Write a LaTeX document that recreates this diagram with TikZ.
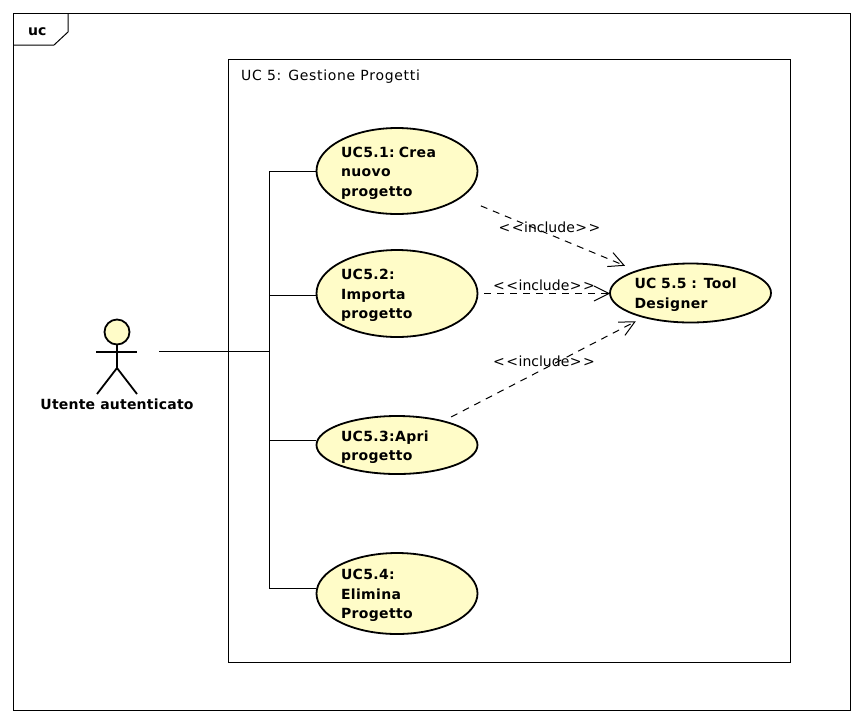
\documentclass[tikz,border=0pt]{standalone}
\usepackage{fontspec}
\setmainfont{DejaVu Sans}
\usetikzlibrary{shapes.geometric,arrows.meta,calc}
\definecolor{ucfill}{HTML}{FFFCC8}
\newcommand{\inclabel}{<\kern1.5pt<\kern0.5pt include\kern0.5pt>\kern1.5pt>}
\tikzset{
  usecase/.style={ellipse,draw=black,line width=1.8pt,fill=ucfill,inner sep=0pt,minimum width=161pt,
    text width=112pt,align=left,font=\addfontfeatures{LetterSpace=2.5}\fontsize{14}{19.5}\selectfont\bfseries,
    execute at begin node={\rule{0pt}{14.5pt}}},
  frameline/.style={draw=black,line width=1pt},
  assoc/.style={draw=black,line width=1pt},
  incl/.style={draw=black,line width=1pt,dash pattern=on 7pt off 6pt,-{Straight Barb[length=15pt,width=15pt,line width=1pt]}},
  incllabel/.style={inner sep=0pt,font=\fontsize{14}{16}\selectfont},
  stick/.style={draw=black,line width=1.8pt},
  plain/.style={inner sep=0pt}
}
\begin{document}
\begin{tikzpicture}[x=1pt,y=-1pt]
\useasboundingbox (0,0) rectangle (864,724);
\fill[white] (0,0) rectangle (864,724);
% frame
\draw[frameline] (13.5,13.5) rectangle (850.5,710.5);
\draw[frameline] (13.5,45) -- (54,45) -- (68,32) -- (68,13.5);
\node[plain,font=\fontsize{14}{16}\selectfont\bfseries,anchor=base west] (tag) at (28,35) {uc};
% system boundary
\draw[frameline] (228.5,59.5) rectangle (790.5,662.5);
\node[plain,font=\addfontfeatures{LetterSpace=5}\fontsize{14}{16}\selectfont,anchor=base west] (sys) at (241,80) {UC 5: Gestione Progetti};
% junctions
\coordinate (actorport) at (159,351);
\coordinate (j0) at (269,351);
\coordinate (j1) at (269,171);
\coordinate (j2) at (269,295);
\coordinate (j3) at (269,440);
\coordinate (j4) at (269,588);
% use cases
\node[usecase,minimum height=86pt] (uc51) at (397,171) {UC5.1:\kern-3pt{} Crea\\nuovo\\progetto};
\node[usecase,minimum height=87pt] (uc52) at (397,293.5) {UC5.2:\\Importa\\progetto};
\node[usecase,minimum height=58pt] (uc53) at (397,445) {UC5.3:Apri\\progetto};
\node[usecase,minimum height=81pt] (uc54) at (397,593.5) {UC5.4:\\Elimina\\Progetto};
\node[usecase,minimum height=59pt] (uc55) at (690.5,293) {UC 5.5 : Tool\\Designer};
% actor
\node[circle,draw=black,line width=1.8pt,fill=ucfill,minimum size=25pt,inner sep=0pt] (head) at (117,332) {};
\coordinate (hip) at (117,368);
\coordinate (armL) at (96,352);
\coordinate (armR) at (137,352);
\coordinate (legL) at (97,394);
\coordinate (legR) at (137,394);
\draw[stick] (head) -- (hip);
\draw[stick] (armL) -- (armR);
\draw[stick] (legL) -- (hip) -- (legR);
\node[plain,font=\addfontfeatures{LetterSpace=1.5}\fontsize{14}{16}\selectfont\bfseries,anchor=base] (actor) at (117,409) {Utente autenticato};
% associations
\draw[assoc] (actorport) -- (j0);
\draw[assoc] (j1) -- (j4);
\draw[assoc] (j1) -- (uc51.west |- j1);
\draw[assoc] (j2) -- (uc52.west |- j2);
\draw[assoc] (j3) -- (uc53.west |- j3);
\draw[assoc] (j4) -- (uc54.west |- j4);
% includes
\draw[incl,shorten <=21pt,shorten >=12pt] (uc51) -- (uc55);
\draw[incl,shorten <=6pt,shorten >=-1pt] (uc52) -- (uc52 -| uc55.west);
\draw[incl,shorten <=8pt,shorten >=8pt] (uc53) -- (uc55);
\node[incllabel] (l1) at (549.5,227) {\inclabel};
\node[incllabel] (l2) at (544,285) {\inclabel};
\node[incllabel] (l3) at (544,361) {\inclabel};
\end{tikzpicture}
\end{document}
